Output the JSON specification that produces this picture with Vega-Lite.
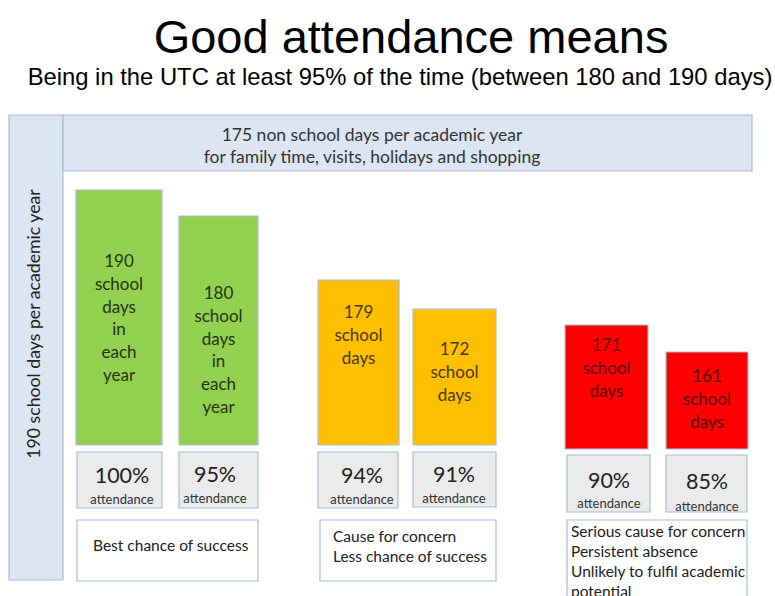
{
  "$schema": "https://vega.github.io/schema/vega-lite/v6.json",
  "width": 775,
  "height": 596,
  "autosize": {"type": "none"},
  "padding": 0,
  "background": "#ffffff",
  "config": {"view": {"stroke": null}},
  "datasets": {
    "rects": [
      {"part": "panel", "tone": "panel", "x": 9, "x2": 63, "y": 115, "y2": 580},
      {"part": "panel", "tone": "panel", "x": 63, "x2": 752, "y": 115, "y2": 171},
      {"part": "bar", "tone": "good", "x": 76, "x2": 162, "y": 190, "y2": 445},
      {"part": "bar", "tone": "good", "x": 179, "x2": 258, "y": 216, "y2": 445},
      {"part": "bar", "tone": "concern", "x": 318, "x2": 399, "y": 280, "y2": 445},
      {"part": "bar", "tone": "concern", "x": 413, "x2": 496, "y": 309, "y2": 445},
      {"part": "bar", "tone": "serious", "x": 565, "x2": 648, "y": 325, "y2": 449},
      {"part": "bar", "tone": "serious", "x": 666, "x2": 748, "y": 352, "y2": 449},
      {"part": "pct", "tone": "pct", "x": 77, "x2": 162, "y": 452, "y2": 508},
      {"part": "pct", "tone": "pct", "x": 179, "x2": 258, "y": 452, "y2": 508},
      {"part": "pct", "tone": "pct", "x": 318, "x2": 398, "y": 452, "y2": 508},
      {"part": "pct", "tone": "pct", "x": 413, "x2": 496, "y": 452, "y2": 507},
      {"part": "pct", "tone": "pct", "x": 567, "x2": 650, "y": 455, "y2": 512},
      {"part": "pct", "tone": "pct", "x": 666, "x2": 747, "y": 455, "y2": 512},
      {"part": "note", "tone": "note", "x": 77, "x2": 258, "y": 520, "y2": 581},
      {"part": "note", "tone": "note", "x": 320, "x2": 496, "y": 520, "y2": 581},
      {"part": "note", "tone": "note", "x": 567, "x2": 747, "y": 520, "y2": 610}
    ],
    "labels": [
      {"part": "title", "x": 411, "y": 53, "text": "Good attendance means"},
      {"part": "subtitle", "x": 400, "y": 85, "text": "Being in the UTC at least 95% of the time (between 180 and 190 days)"},
      {"part": "header", "x": 372, "y": 136, "text": ["175 non school days per academic year", "for family time, visits, holidays and shopping"]},
      {"part": "side", "x": 35, "y": 324, "text": "190 school days per academic year"},
      {"part": "bar", "tone": "good", "x": 119, "y": 262, "text": ["190", "school", "days", "in", "each", "year"]},
      {"part": "bar", "tone": "good", "x": 218.5, "y": 294, "text": ["180", "school", "days", "in", "each", "year"]},
      {"part": "bar", "tone": "concern", "x": 358.5, "y": 313, "text": ["179", "school", "days"]},
      {"part": "bar", "tone": "concern", "x": 454.5, "y": 350, "text": ["172", "school", "days"]},
      {"part": "bar", "tone": "serious", "x": 606.5, "y": 346, "text": ["171", "school", "days"]},
      {"part": "bar", "tone": "serious", "x": 707, "y": 377, "text": ["161", "school", "days"]},
      {"part": "pct", "x": 122, "y": 477, "text": "100%"},
      {"part": "pct", "x": 215, "y": 476, "text": "95%"},
      {"part": "pct", "x": 362, "y": 477, "text": "94%"},
      {"part": "pct", "x": 454, "y": 476, "text": "91%"},
      {"part": "pct", "x": 609, "y": 482, "text": "90%"},
      {"part": "pct", "x": 707, "y": 483, "text": "85%"},
      {"part": "att", "x": 122, "y": 500, "text": "attendance"},
      {"part": "att", "x": 215, "y": 499, "text": "attendance"},
      {"part": "att", "x": 362, "y": 500, "text": "attendance"},
      {"part": "att", "x": 454, "y": 499, "text": "attendance"},
      {"part": "att", "x": 609, "y": 504, "text": "attendance"},
      {"part": "att", "x": 707, "y": 507, "text": "attendance"},
      {"part": "note", "x": 93, "y": 546, "text": ["Best chance of success"]},
      {"part": "note", "x": 333, "y": 537, "text": ["Cause for concern", "Less chance of success"]},
      {"part": "note", "x": 571, "y": 532, "text": ["Serious cause for concern", "Persistent absence", "Unlikely to fulfil academic", "potential"]}
    ]
  },
  "encoding": {
    "x": {"field": "x", "type": "quantitative", "scale": {"domain": [0, 775], "nice": false, "zero": false}, "axis": null},
    "y": {"field": "y", "type": "quantitative", "scale": {"domain": [0, 596], "nice": false, "zero": false, "reverse": true}, "axis": null}
  },
  "layer": [
    {
      "data": {"name": "rects"},
      "mark": {"type": "rect", "stroke": "#a7bdd9", "strokeWidth": 1.2},
      "encoding": {
        "x2": {"field": "x2"},
        "y2": {"field": "y2"},
        "fill": {"field": "tone", "type": "nominal", "legend": null,
          "scale": {"domain": ["panel", "good", "concern", "serious", "pct", "note"],
                    "range": ["#dce6f2", "#92d050", "#ffc000", "#ff0000", "#ebebeb", "#ffffff"]}}
      }
    },
    {
      "data": {"name": "labels"},
      "transform": [{"filter": "datum.part === 'title'"}],
      "mark": {"type": "text", "font": "Liberation Sans", "fontSize": 47, "baseline": "alphabetic", "align": "center", "color": "#000000"},
      "encoding": {"text": {"field": "text"}}
    },
    {
      "data": {"name": "labels"},
      "transform": [{"filter": "datum.part === 'subtitle'"}],
      "mark": {"type": "text", "font": "Liberation Sans", "fontSize": 23.8, "baseline": "alphabetic", "align": "center", "color": "#000000"},
      "encoding": {"text": {"field": "text"}}
    },
    {
      "data": {"name": "labels"},
      "transform": [{"filter": "datum.part === 'header'"}],
      "mark": {"type": "text", "font": "Lato", "fontSize": 17.5, "lineHeight": 22, "baseline": "middle", "align": "center", "color": "#333333"},
      "encoding": {"text": {"field": "text"}}
    },
    {
      "data": {"name": "labels"},
      "transform": [{"filter": "datum.part === 'side'"}],
      "mark": {"type": "text", "font": "Lato", "fontSize": 17.7, "angle": 270, "baseline": "middle", "align": "center", "color": "#222222"},
      "encoding": {"text": {"field": "text"}}
    },
    {
      "data": {"name": "labels"},
      "transform": [{"filter": "datum.part === 'bar'"}],
      "mark": {"type": "text", "font": "Lato", "fontSize": 17, "lineHeight": 22.8, "baseline": "middle", "align": "center"},
      "encoding": {
        "text": {"field": "text"},
        "color": {"field": "tone", "type": "nominal", "legend": null,
          "scale": {"domain": ["good", "concern", "serious"], "range": ["#26330f", "#4a3600", "#5c0000"]}}
      }
    },
    {
      "data": {"name": "labels"},
      "transform": [{"filter": "datum.part === 'pct'"}],
      "mark": {"type": "text", "font": "Lato", "fontSize": 21.5, "baseline": "middle", "align": "center", "color": "#222222"},
      "encoding": {"text": {"field": "text"}}
    },
    {
      "data": {"name": "labels"},
      "transform": [{"filter": "datum.part === 'att'"}],
      "mark": {"type": "text", "font": "Lato", "fontSize": 13, "baseline": "middle", "align": "center", "color": "#333333"},
      "encoding": {"text": {"field": "text"}}
    },
    {
      "data": {"name": "labels"},
      "transform": [{"filter": "datum.part === 'note'"}],
      "mark": {"type": "text", "font": "Lato", "fontSize": 15.5, "lineHeight": 20, "baseline": "middle", "align": "left", "color": "#222222"},
      "encoding": {"text": {"field": "text"}}
    }
  ]
}
